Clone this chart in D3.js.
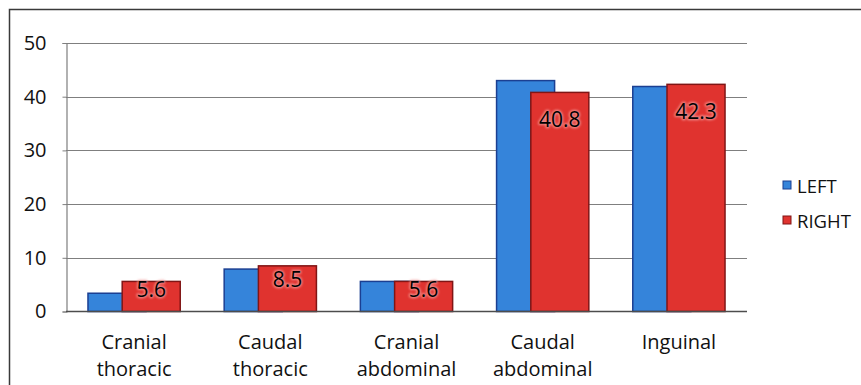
<!DOCTYPE html>
<html>
<head>
<meta charset="utf-8">
<script src="https://cdn.jsdelivr.net/npm/d3@7"></script>
<style>
  html, body { margin: 0; padding: 0; background: #fff; }
  svg { display: block; }
  text { font-family: "Open Sans", "Liberation Sans", sans-serif; }
</style>
</head>
<body>
<svg id="chart" width="861" height="385"></svg>
<script>
// Lymph node location groups (two-line labels split on "\n")
const categories = ["Cranial\nthoracic", "Caudal\nthoracic", "Cranial\nabdominal", "Caudal\nabdominal", "Inguinal"];
const leftValues = [3.4, 7.9, 5.6, 43.0, 41.9];
const rightValues = [5.6, 8.5, 5.6, 40.8, 42.3];
const seriesNames = ["LEFT", "RIGHT"];
const yTicks = [0, 10, 20, 30, 40, 50];

const colors = { LEFT: "#3584da", RIGHT: "#e0332f" };
const strokes = { LEFT: "#1b3f92", RIGHT: "#801515" };
const ink = "#111";

const svg = d3.select("#chart");
const W = 861, H = 385;

// Outer chart frame (runs past the right and bottom edges)
svg.append("rect")
  .attr("x", 9.5).attr("y", 9.5)
  .attr("width", W).attr("height", H)
  .attr("fill", "#fff")
  .attr("stroke", "#3a3a3a").attr("stroke-width", 1.5);

const plot = { left: 66, right: 747, top: 43, bottom: 311.5 };

const x = d3.scaleBand()
  .domain(categories)
  .range([plot.left, plot.right])
  .paddingInner(0).paddingOuter(0);

const y = d3.scaleLinear()
  .domain([0, 50])
  .range([plot.bottom, plot.top]);

// Blur used for the halo behind value labels
const defs = svg.append("defs");
defs.append("filter").attr("id", "soft")
  .attr("x", "-20%").attr("y", "-30%").attr("width", "140%").attr("height", "160%")
  .append("feGaussianBlur").attr("stdDeviation", 1.1);

// Gridlines
svg.append("g")
  .selectAll("line")
  .data(yTicks.filter(t => t > 0))
  .join("line")
  .attr("x1", plot.left).attr("x2", plot.right)
  .attr("y1", d => Math.round(y(d)) + 0.5).attr("y2", d => Math.round(y(d)) + 0.5)
  .attr("stroke", "#7f7f7f").attr("stroke-width", 1.2);

// Y axis
const yAxis = svg.append("g")
  .attr("transform", `translate(${plot.left + 0.5},0)`)
  .call(d3.axisLeft(y).tickValues(yTicks).tickSize(4).tickPadding(16));
yAxis.select(".domain").attr("stroke", "#7f7f7f").attr("stroke-width", 1.2);
yAxis.selectAll(".tick line").attr("stroke", "#7f7f7f");
yAxis.selectAll(".tick text")
  .attr("font-size", 20)
  .attr("font-family", "'Open Sans', sans-serif")
  .attr("fill", ink);

// Bars
const step = x.bandwidth();
const barW = step * 0.426;
const shift = barW * 0.59;

const rows = categories.map((c, i) => ({ cat: c, LEFT: leftValues[i], RIGHT: rightValues[i] }));

const groups = svg.append("g").selectAll("g")
  .data(rows)
  .join("g")
  .attr("transform", d => `translate(${x(d.cat) + step / 2},0)`);

groups.append("rect")
  .attr("x", -(barW + shift) / 2)
  .attr("y", d => y(d.LEFT))
  .attr("width", barW)
  .attr("height", d => y(0) - y(d.LEFT))
  .attr("fill", colors.LEFT)
  .attr("stroke", strokes.LEFT).attr("stroke-width", 1.5);

groups.append("rect")
  .attr("x", -(barW + shift) / 2 + shift)
  .attr("y", d => y(d.RIGHT))
  .attr("width", barW)
  .attr("height", d => y(0) - y(d.RIGHT))
  .attr("fill", colors.RIGHT)
  .attr("stroke", strokes.RIGHT).attr("stroke-width", 1.5);

// X axis baseline
svg.append("line")
  .attr("x1", plot.left).attr("x2", plot.right)
  .attr("y1", y(0)).attr("y2", y(0))
  .attr("stroke", "#4d4d4d").attr("stroke-width", 1.3);

// Value labels inside the top of the RIGHT bars
const labelX = -(barW + shift) / 2 + shift + barW / 2;
const labelY = d => {
  const h = y(0) - y(d.RIGHT);
  const off = Math.min(20, Math.max(0, (h - 27) / 3));
  return y(d.RIGHT) + off + 15;
};
groups.append("text")
  .attr("x", labelX).attr("y", labelY)
  .attr("text-anchor", "middle")
  .attr("font-size", 21)
  .attr("fill", "#f4a6a6")
  .attr("stroke", "#f4a6a6").attr("stroke-width", 2.5)
  .attr("stroke-linejoin", "round")
  .attr("opacity", 0.75)
  .attr("filter", "url(#soft)")
  .text(d => d.RIGHT.toFixed(1));
groups.append("text")
  .attr("x", labelX).attr("y", labelY)
  .attr("text-anchor", "middle")
  .attr("font-size", 21)
  .attr("fill", "#000")
  .text(d => d.RIGHT.toFixed(1));

// Category labels
groups.append("text")
  .attr("text-anchor", "middle")
  .attr("font-size", 20)
  .attr("fill", ink)
  .selectAll("tspan")
  .data(d => d.cat.split("\n"))
  .join("tspan")
  .attr("x", 0)
  .attr("y", (d, i) => 349 + i * 27)
  .text(d => d);

// Legend
const legend = svg.append("g").selectAll("g")
  .data(seriesNames)
  .join("g")
  .attr("transform", (d, i) => `translate(783,${181 + i * 35})`);
legend.append("rect")
  .attr("width", 8).attr("height", 8)
  .attr("fill", d => colors[d])
  .attr("stroke", d => strokes[d]).attr("stroke-width", 1);
legend.append("text")
  .attr("x", 14).attr("y", 12)
  .attr("font-size", 18.5)
  .attr("fill", ink)
  .text(d => d);
</script>
</body>
</html>
